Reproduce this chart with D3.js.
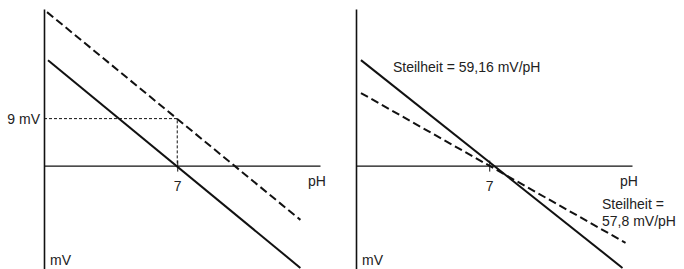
<!DOCTYPE html>
<html>
<head>
<meta charset="utf-8">
<script src="https://cdn.jsdelivr.net/npm/d3@7"></script>
<style>
  body { margin: 0; background: #fff; }
  text { font-family: "Liberation Sans", Arial, sans-serif; font-size: 14px; fill: #222; }
</style>
</head>
<body>
<div id="chart"></div>
<script>
// schematic values (pH, mV)
var phAxis = [0, 14.5];
var mvAxis = [-20, 30];
var neutralPh = [7];
var offsetMv = [9];

// left panel: ideal electrode and electrode with 9 mV offset
var leftIdeal = [[0.21, 20.2], [13.47, -19.6]];
var leftOffset = [[0.16, 29.4], [13.47, -10.4]];
// right panel: ideal slope and reduced slope
var rightIdeal = [[0.26, 20.2], [14.0, -19.6]];
var rightReduced = [[0.26, 13.9], [14.16, -14.8]];

var width = 684, height = 269;

var svg = d3.select("#chart")
  .append("svg")
    .attr("width", width)
    .attr("height", height);

var x = d3.scaleLinear().domain(phAxis).range([0, 276]);
var y = d3.scaleLinear().domain(mvAxis).range([270, 9]);

var line = d3.line()
  .x(function(d) { return x(d[0]); })
  .y(function(d) { return y(d[1]); });

function drawPanel(left, opts) {
  var g = svg.append("g").attr("transform", "translate(" + left + ",0)");

  // y axis
  var yAxis = d3.axisLeft(y).tickSize(0).tickPadding(4)
    .tickValues(opts.yTicks)
    .tickFormat(function(d) { return d + " mV"; });
  var ya = g.append("g").call(yAxis);
  ya.select(".domain").attr("stroke", "#111").attr("stroke-width", 1.6);
  ya.selectAll("text").attr("font-size", 14).attr("font-family", null).attr("dy", "0.36em");

  // x axis through 0 mV
  var xAxis = d3.axisBottom(x).tickValues(neutralPh).tickSizeOuter(0).tickSizeInner(6);
  var xa = g.append("g").attr("transform", "translate(0," + y(0) + ")").call(xAxis);
  xa.select(".domain").attr("stroke", "#111").attr("stroke-width", 1.4);
  xa.selectAll(".tick line").attr("y1", -5).attr("y2", 6).attr("stroke", "#111");
  xa.selectAll(".tick text").attr("font-size", 14).attr("font-family", null)
    .attr("y", 25).attr("dy", null);

  if (opts.guide) {
    g.append("path")
      .attr("d", line([[0, offsetMv[0]], [neutralPh[0], offsetMv[0]], [neutralPh[0], 0]]))
      .attr("fill", "none")
      .attr("stroke", "#111")
      .attr("stroke-width", 1)
      .attr("stroke-dasharray", "3,2");
  }

  g.append("path").datum(opts.dashed)
    .attr("d", line)
    .attr("fill", "none")
    .attr("stroke", "#111")
    .attr("stroke-width", 2)
    .attr("stroke-dasharray", "8,4");

  g.append("path").datum(opts.solid)
    .attr("d", line)
    .attr("fill", "none")
    .attr("stroke", "#111")
    .attr("stroke-width", 2);

  g.append("text").attr("x", opts.phX).attr("y", 186).text("pH");
  g.append("text").attr("x", 6).attr("y", 265).text("mV");
  return g;
}

var gl = drawPanel(44, { yTicks: offsetMv, guide: true, solid: leftIdeal, dashed: leftOffset, phX: 264 });
var gr = drawPanel(356, { yTicks: [], guide: false, solid: rightIdeal, dashed: rightReduced, phX: 264 });

gr.append("text").attr("x", 37).attr("y", 72).text("Steilheit = 59,16 mV/pH");
gr.append("text").attr("x", 246).attr("y", 209).text("Steilheit =");
gr.append("text").attr("x", 246).attr("y", 226).text("57,8 mV/pH");
</script>
</body>
</html>
